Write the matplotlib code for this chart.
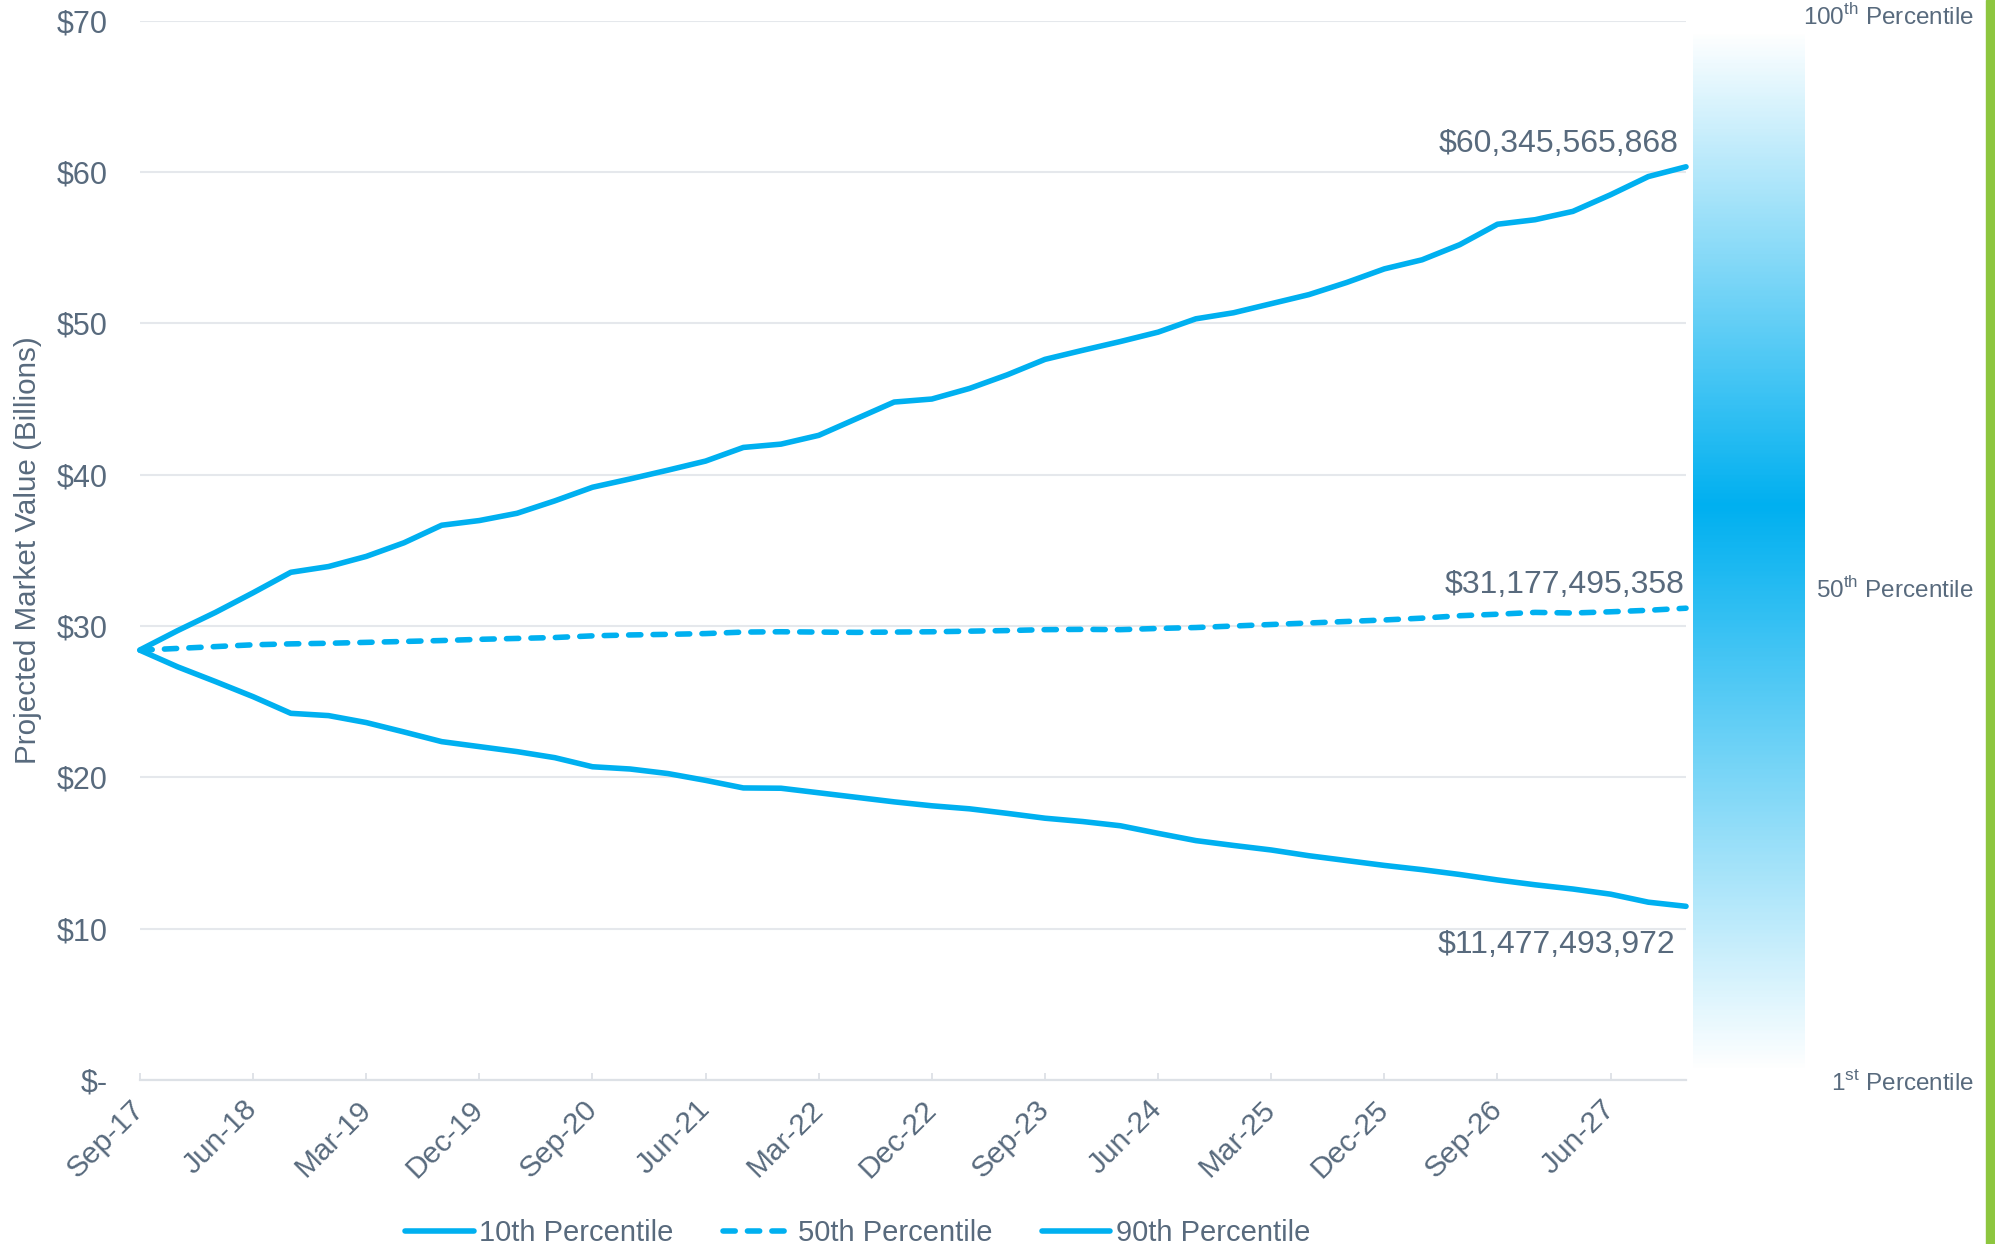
import numpy as np
import pandas as pd
import matplotlib
matplotlib.use("Agg")
import matplotlib.pyplot as plt
from matplotlib.colors import LinearSegmentedColormap
from matplotlib.patches import Rectangle

plt.rcParams['font.family'] = ['Liberation Sans', 'DejaVu Sans']
plt.rcParams['mathtext.fontset'] = 'custom'
plt.rcParams['mathtext.rm'] = 'Liberation Sans'

# quarterly projection dates, Sep-17 .. Dec-27
quarters = pd.date_range('2017-09-30', periods=42, freq='3ME')
quarter_labels = [d.strftime('%b-%y') for d in quarters]

# projected market value, $ billions
p10 = [28.40, 27.30, 26.33, 25.33, 24.23, 24.08, 23.62, 23.00, 22.36, 22.03,
       21.70, 21.30, 20.70, 20.55, 20.25, 19.80, 19.30, 19.28, 18.98, 18.68,
       18.38, 18.12, 17.92, 17.62, 17.30, 17.08, 16.80, 16.30, 15.82, 15.50,
       15.20, 14.82, 14.50, 14.18, 13.90, 13.58, 13.22, 12.90, 12.62, 12.28,
       11.75, 11.477493972]
p50 = [28.40, 28.52, 28.64, 28.76, 28.82, 28.86, 28.92, 28.98, 29.04, 29.12,
       29.18, 29.24, 29.35, 29.41, 29.45, 29.50, 29.60, 29.62, 29.60, 29.58,
       29.60, 29.62, 29.66, 29.70, 29.76, 29.78, 29.76, 29.84, 29.90, 30.00,
       30.10, 30.20, 30.30, 30.40, 30.52, 30.68, 30.78, 30.90, 30.86, 30.94,
       31.04, 31.177495358]
p90 = [28.42, 29.70, 30.90, 32.20, 33.55, 33.93, 34.60, 35.50, 36.66, 36.97,
       37.45, 38.27, 39.17, 39.72, 40.30, 40.90, 41.80, 42.02, 42.60, 43.70,
       44.80, 45.00, 45.70, 46.60, 47.62, 48.22, 48.80, 49.42, 50.30, 50.70,
       51.30, 51.90, 52.70, 53.60, 54.20, 55.20, 56.55, 56.85, 57.40, 58.50,
       59.70, 60.345565868]
series_names = ['10th Percentile', '50th Percentile', '90th Percentile']
end_labels = ['$11,477,493,972', '$31,177,495,358', '$60,345,565,868']

blue = '#00B0F0'
txt = '#586A7D'
grid_c = '#E5E8EC'

fig = plt.figure(figsize=(19.95, 12.44), dpi=100)
ax = fig.add_axes([0.07018, 0.13183, 0.77494, 0.85153])

x = np.arange(len(quarters))
lw = 4.0
ax.plot(x, p10, color=blue, lw=lw, solid_capstyle='round',
        solid_joinstyle='round', clip_on=False, label=series_names[0])
ax.plot(x, p50, color=blue, lw=lw, dashes=(2.2, 2.2), dash_capstyle='round',
        dash_joinstyle='round', clip_on=False, label=series_names[1])
ax.plot(x, p90, color=blue, lw=lw, solid_capstyle='round',
        solid_joinstyle='round', clip_on=False, label=series_names[2])

ax.set_xlim(0, len(x) - 1)
ax.set_ylim(0, 70)
ax.set_yticks(range(0, 71, 10))
ax.set_yticklabels(['$-'] + ['$%d' % v for v in range(10, 71, 10)])
ax.set_xticks(x[::3])
ax.set_xticklabels(quarter_labels[::3], rotation=45, ha='right', va='center',
                   rotation_mode='anchor')

ax.grid(axis='y', color=grid_c, lw=1.5)
ax.set_axisbelow(True)
for s in ['top', 'right', 'left']:
    ax.spines[s].set_visible(False)
ax.spines['bottom'].set_color('#DDE1E6')
ax.spines['bottom'].set_linewidth(1.6)
ax.tick_params(axis='y', length=0, pad=23, labelsize=22, labelcolor=txt)
ax.tick_params(axis='x', direction='in', length=5, width=1.3,
               color='#DDE1E6', pad=18, labelsize=21.5, labelcolor=txt)

fig.text(28 / 1995, 1 - 550 / 1244, 'Projected Market Value (Billions)',
         rotation=90, ha='center', va='center', fontsize=21.3, color=txt)

# value labels at the last quarter
last = len(x) - 1
offsets = [(-7.6, -27.8), (-1.1, 16.8), (-5.4, 16.4)]
for vals, lab, off in zip([p10, p50, p90], end_labels, offsets):
    ax.annotate(lab.replace('$', r'\$'), xy=(last, vals[-1]), xytext=off,
                textcoords='offset points', ha='right', va='center',
                fontsize=23, color=txt, annotation_clip=False)

leg = fig.legend(loc='center left', bbox_to_anchor=(405 / 1995, 1 - 1233 / 1244),
                 ncol=3, frameon=False, fontsize=21, handlelength=2.35,
                 handletextpad=0.2, columnspacing=1.7, borderpad=0,
                 borderaxespad=0)
for t in leg.get_texts():
    t.set_color(txt)

# percentile gradient bar
bax = fig.add_axes([0.84862, 0.13826, 0.05614, 0.83762])
peak = 0.456
cmap = LinearSegmentedColormap.from_list(
    'pct', [(0.0, 'white'), (peak, blue), (1.0, 'white')])
grad = np.linspace(0, 1, 600).reshape(-1, 1)
bax.imshow(grad, aspect='auto', cmap=cmap, extent=(0, 1, 1, 0),
           interpolation='bilinear')
bax.set_axis_off()

pct_labels = [(r'100$^{\mathrm{th}}$ Percentile', 17),
              (r'50$^{\mathrm{th}}$ Percentile', 590),
              (r'1$^{\mathrm{st}}$ Percentile', 1083)]
for lab, ypx in pct_labels:
    fig.text(1974 / 1995, 1 - ypx / 1244, lab, ha='right', va='center',
             fontsize=17.5, color=txt)

fig.patches.append(Rectangle((1986 / 1995, 0), 9 / 1995, 1,
                             transform=fig.transFigure, color='#8DC63F',
                             zorder=5))

fig.savefig('out.png', dpi=100)
